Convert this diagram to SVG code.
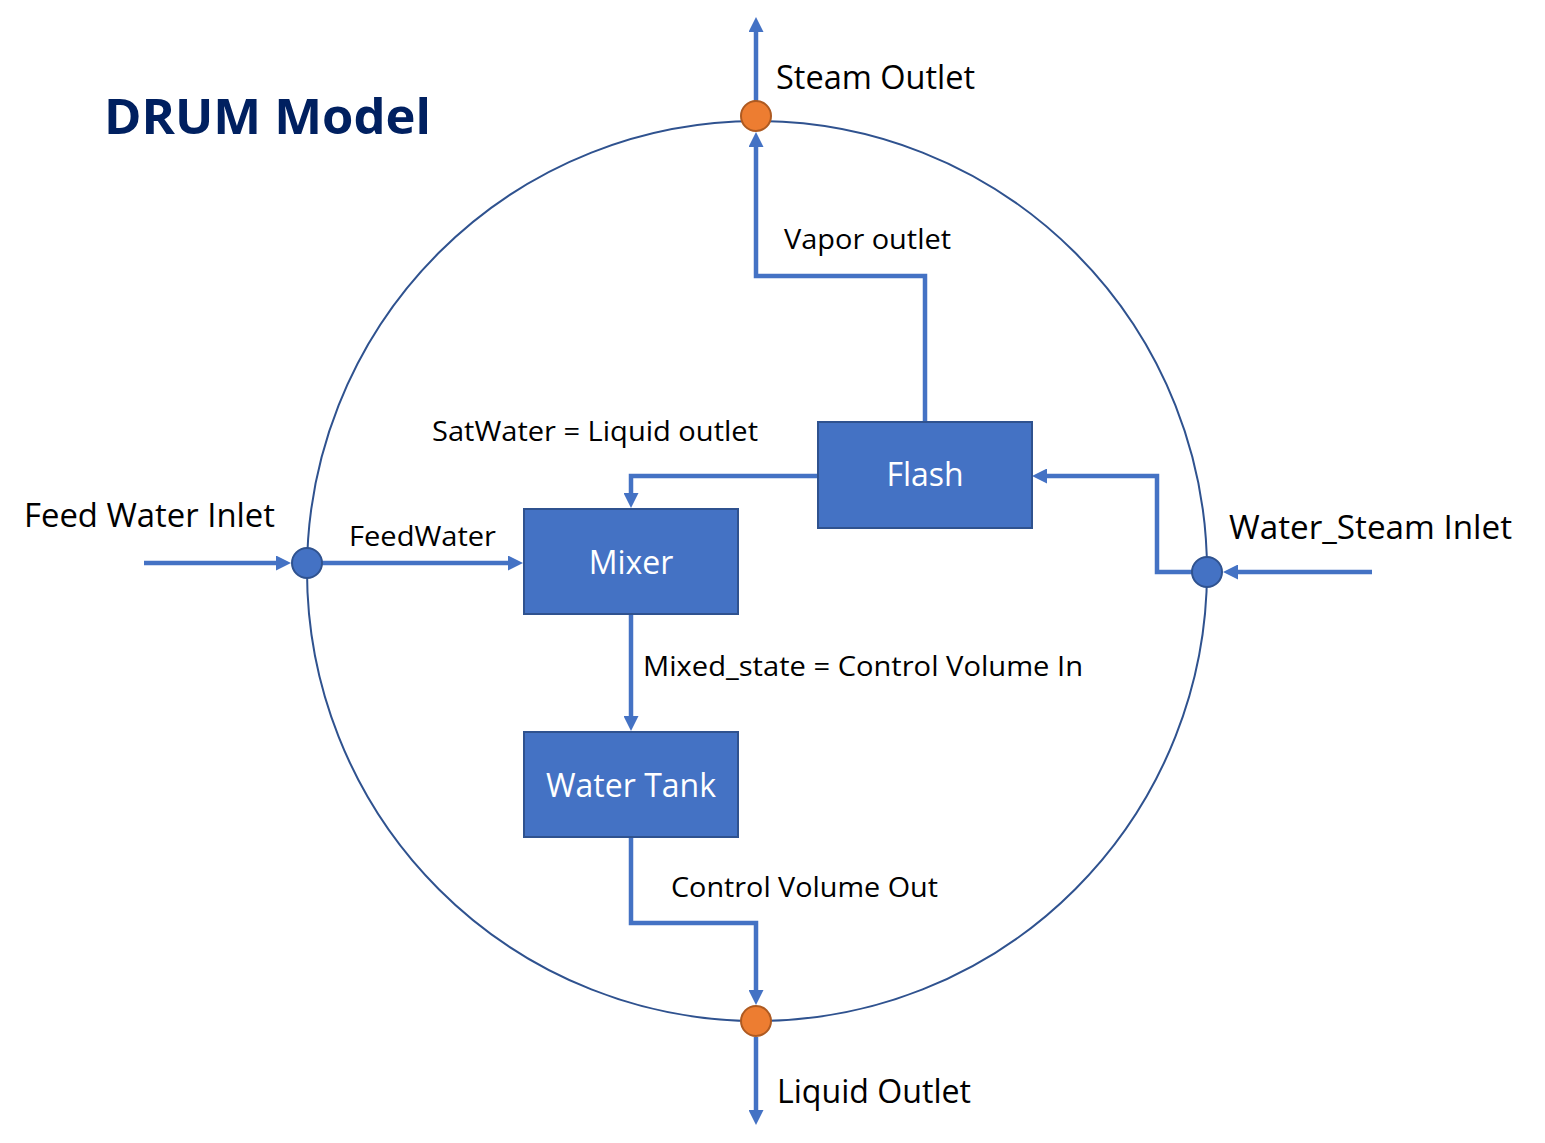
<svg xmlns="http://www.w3.org/2000/svg" width="1545" height="1143" viewBox="0 0 1545 1143">
<style>
.bg{fill:#ffffff}
.drum{fill:none;stroke:#2F528F;stroke-width:2}
.box{fill:#4472C4;stroke:#2F528F;stroke-width:2}
.boxt{font-family:"Open Sans","Liberation Sans",sans-serif;font-size:32px;fill:#ffffff;text-anchor:middle}
.conn{fill:none;stroke:#4472C4;stroke-width:4.5;marker-end:url(#arr)}
.pin{fill:#4472C4;stroke:#2F528F;stroke-width:2}
.pout{fill:#ED7D31;stroke:#AE5A21;stroke-width:2}
.big{font-family:"Open Sans","Liberation Sans",sans-serif;font-size:32px;fill:#000000}
.small{font-family:"Open Sans","Liberation Sans",sans-serif;font-size:27px;fill:#000000}
.title{font-family:"Open Sans","Liberation Sans",sans-serif;font-size:48px;font-weight:bold;fill:#002060}
</style>
<defs>
<marker id="arr" markerUnits="userSpaceOnUse" markerWidth="15" markerHeight="15" refX="4" refY="7.5" orient="auto">
<path d="M0,0 L15,7.5 L0,15 z" fill="#4472C4"/>
</marker>
</defs>
<rect class="bg" x="0" y="0" width="1545" height="1143"/>
<text id="title" class="title" x="104" y="134" textLength="327" lengthAdjust="spacingAndGlyphs">DRUM Model</text>
<g id="drum">
<circle class="drum" cx="757" cy="571" r="450"/>
</g>
<g id="connectors">
<path class="conn" d="M756,101 V28"/>
<path class="conn" d="M925,422 V276 H756 V143"/>
<path class="conn" d="M818,476 H631 V497"/>
<path class="conn" d="M144,563 H280"/>
<path class="conn" d="M322,563 H512"/>
<path class="conn" d="M1372,572 H1234"/>
<path class="conn" d="M1207,572 H1157 V476 H1043"/>
<path class="conn" d="M631,614 V720"/>
<path class="conn" d="M631,837 V923 H756 V994"/>
<path class="conn" d="M756,1037 V1114"/>
</g>
<g id="flash">
<rect class="box" x="818" y="422" width="214" height="106"/>
<text class="boxt" x="925" y="486">Flash</text>
</g>
<g id="mixer">
<rect class="box" x="524" y="509" width="214" height="105"/>
<text class="boxt" x="631" y="574">Mixer</text>
</g>
<g id="watertank">
<rect class="box" x="524" y="732" width="214" height="105"/>
<text class="boxt" x="631" y="797">Water Tank</text>
</g>
<g id="steam-outlet">
<circle class="pout" cx="756" cy="116" r="15"/>
<text class="big" x="776" y="89" textLength="199" lengthAdjust="spacingAndGlyphs">Steam Outlet</text>
</g>
<g id="liquid-outlet">
<circle class="pout" cx="756" cy="1021" r="15"/>
<text class="big" x="777" y="1103" textLength="194" lengthAdjust="spacingAndGlyphs">Liquid Outlet</text>
</g>
<g id="feed-water-inlet">
<circle class="pin" cx="307" cy="563" r="15"/>
<text class="big" x="24" y="527" textLength="251" lengthAdjust="spacingAndGlyphs">Feed Water Inlet</text>
</g>
<g id="water-steam-inlet">
<circle class="pin" cx="1207" cy="572" r="15"/>
<text class="big" x="1229" y="539" textLength="283" lengthAdjust="spacingAndGlyphs">Water_Steam Inlet</text>
</g>
<g id="labels">
<text class="small" x="784" y="249" textLength="167" lengthAdjust="spacingAndGlyphs">Vapor outlet</text>
<text class="small" x="432" y="441" textLength="326" lengthAdjust="spacingAndGlyphs">SatWater = Liquid outlet</text>
<text class="small" x="349" y="546" textLength="147" lengthAdjust="spacingAndGlyphs">FeedWater</text>
<text class="small" x="643" y="676" textLength="440" lengthAdjust="spacingAndGlyphs">Mixed_state = Control Volume In</text>
<text class="small" x="671" y="897" textLength="267" lengthAdjust="spacingAndGlyphs">Control Volume Out</text>
</g>
</svg>
